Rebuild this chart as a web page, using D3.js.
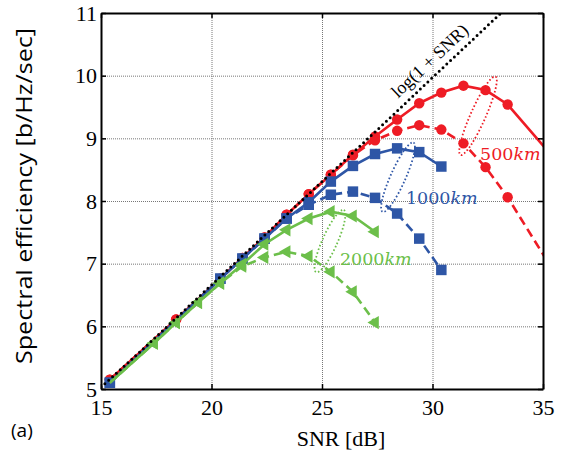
<!DOCTYPE html>
<html>
<head>
<meta charset="utf-8">
<script src="https://cdn.jsdelivr.net/npm/d3@7"></script>
<style>
  body { margin: 0; background: #fff; }
  svg { display: block; }
</style>
</head>
<body>
<div id="chart"></div>
<script>
// SNR [dB] and spectral efficiency [b/Hz/sec]
const xTicks = [15, 20, 25, 30, 35];
const yTicks = [5, 6, 7, 8, 9, 10, 11];

const idealSNR = [15, 17, 20, 23, 25, 28, 30, 33.1];
const idealSE  = [5.03, 5.67, 6.66, 7.65, 8.31, 9.30, 9.97, 11.0];

const redSolidSNR = [15.4, 18.4, 20.4, 21.4, 22.4, 23.4, 24.4, 25.4, 26.4, 27.4, 28.4, 29.4, 30.4, 31.4, 32.4, 33.4, 35.6];
const redSolidSE  = [5.15, 6.11, 6.76, 7.09, 7.42, 7.78, 8.11, 8.42, 8.74, 9.03, 9.30, 9.56, 9.73, 9.84, 9.77, 9.54, 8.64];
const redDashSNR  = [15.4, 18.4, 20.4, 21.4, 22.4, 23.4, 24.4, 25.4, 26.4, 27.4, 28.4, 29.4, 30.4, 31.4, 32.4, 33.4, 35.6];
const redDashSE   = [5.15, 6.11, 6.76, 7.09, 7.42, 7.78, 8.11, 8.42, 8.73, 8.97, 9.12, 9.21, 9.14, 8.92, 8.54, 8.06, 6.81];

const blueSolidSNR = [15.4, 20.4, 21.4, 22.4, 23.4, 24.4, 25.4, 26.4, 27.4, 28.4, 29.4, 30.4];
const blueSolidSE  = [5.10, 6.76, 7.08, 7.40, 7.72, 7.98, 8.31, 8.56, 8.75, 8.84, 8.78, 8.55];
const blueDashSNR  = [15.4, 20.4, 21.4, 22.4, 23.4, 24.4, 25.4, 26.4, 27.4, 28.4, 29.4, 30.4];
const blueDashSE   = [5.10, 6.76, 7.08, 7.40, 7.72, 7.94, 8.10, 8.15, 8.05, 7.80, 7.40, 6.90];

const greenSolidSNR = [15.4, 17.4, 18.4, 19.4, 20.4, 21.4, 22.4, 23.4, 24.4, 25.4, 26.4, 27.4];
const greenSolidSE  = [5.10, 5.73, 6.06, 6.38, 6.69, 6.99, 7.31, 7.54, 7.72, 7.83, 7.76, 7.51];
const greenDashSNR  = [15.4, 17.4, 18.4, 19.4, 20.4, 21.4, 22.4, 23.4, 24.4, 25.4, 26.4, 27.4];
const greenDashSE   = [5.10, 5.73, 6.06, 6.38, 6.69, 6.96, 7.10, 7.19, 7.12, 6.87, 6.55, 6.06];

// distance labels and the dotted ellipses that tie each solid/dashed pair
const distNames = ['500', '1000', '2000'];
const distLabelSNR = [32.15, 28.8, 25.81];
const distLabelSE  = [8.65, 7.95, 6.98];
const ringSNR = [32.06, 28.44, 25.36];
const ringSE  = [9.36, 8.38, 7.36];

const W = 565, H = 450;
const margin = { t: 13, r: 22, b: 61, l: 101 };
const innerWidth = W - margin.l - margin.r;
const innerHeight = H - margin.t - margin.b;

const red = '#ee1c25', blue = '#2e56a6', green = '#6cbf4a';

const x = d3.scaleLinear().domain([15, 35]).range([0, innerWidth]);
const y = d3.scaleLinear().domain([5, 11]).range([innerHeight, 0]);

const svg = d3.select('#chart')
  .append('svg')
  .attr('width', W)
  .attr('height', H);

const plot = svg.append('g')
  .attr('transform', `translate(${margin.l}, ${margin.t})`);

svg.append('defs').append('clipPath').attr('id', 'clip')
  .append('rect')
  .attr('width', innerWidth)
  .attr('height', innerHeight);

// grid
plot.append('g')
  .attr('class', 'grid')
  .attr('transform', `translate(0, ${innerHeight})`)
  .call(d3.axisBottom(x).tickValues(xTicks.slice(1, -1)).tickSize(-innerHeight).tickFormat(''));
plot.append('g')
  .attr('class', 'grid')
  .call(d3.axisLeft(y).tickValues(yTicks.slice(1, -1)).tickSize(-innerWidth).tickFormat(''));
plot.selectAll('.grid .domain').remove();
plot.selectAll('.grid text').remove();
plot.selectAll('.grid line')
  .attr('stroke', '#777')
  .attr('stroke-width', 1)
  .attr('stroke-dasharray', '1,1');

const zip = (xs, ys) => xs.map((v, i) => [v, ys[i]]);

const line = d3.line().x(d => x(d[0])).y(d => y(d[1]));

const series = [
  { pts: zip(redSolidSNR, redSolidSE), color: red, dash: null, mark: 'circle', from: 15 },
  { pts: zip(redDashSNR, redDashSE), color: red, dash: '9,5', mark: 'circle', from: 15 },
  { pts: zip(blueSolidSNR, blueSolidSE), color: blue, dash: null, mark: 'square', from: 15 },
  { pts: zip(blueDashSNR, blueDashSE), color: blue, dash: '9,5', mark: 'square', from: 15 },
  { pts: zip(greenSolidSNR, greenSolidSE), color: green, dash: null, mark: 'triangle', from: 17 },
  { pts: zip(greenDashSNR, greenDashSE), color: green, dash: '9,5', mark: 'triangle', from: 17 }
];

const curves = plot.append('g').attr('clip-path', 'url(#clip)');

series.forEach(s => {
  curves.append('path')
    .datum(s.pts)
    .attr('d', line)
    .attr('fill', 'none')
    .attr('stroke', s.color)
    .attr('stroke-width', 2.6)
    .attr('stroke-dasharray', s.dash);

  const sym = s.mark === 'circle' ? d3.symbol(d3.symbolCircle, 85)
    : s.mark === 'square' ? d3.symbol(d3.symbolSquare, 110)
    : d3.symbol(d3.symbolTriangle, 75);
  const rot = s.mark === 'triangle' ? -90 : 0;

  curves.selectAll(null)
    .data(s.pts.filter(d => d[0] >= s.from && d[0] <= 35))
    .enter()
    .append('path')
    .attr('d', sym)
    .attr('transform', d => `translate(${x(d[0])}, ${y(d[1])}) rotate(${rot})`)
    .attr('fill', s.color);
});

// ideal capacity curve
curves.append('path')
  .datum(zip(idealSNR, idealSE))
  .attr('d', line)
  .attr('fill', 'none')
  .attr('stroke', '#000')
  .attr('stroke-width', 3)
  .attr('stroke-linecap', 'round')
  .attr('stroke-dasharray', '0,5.2');

const slope = Math.atan2(y(idealSE[7]) - y(idealSE[0]), x(idealSNR[7]) - x(idealSNR[0])) * 180 / Math.PI;

plot.append('text')
  .attr('transform', `translate(${x(29.89)}, ${y(10.23)}) rotate(${slope})`)
  .attr('text-anchor', 'middle')
  .attr('dy', '0.3em')
  .attr('font-family', '"Liberation Serif", serif')
  .attr('font-size', 18)
  .text('log(1 + SNR)');

// ellipses
const colors = [red, blue, green];
const ringR = [[43, 7.5], [38, 7.5], [34, 7.5]];
ringSNR.forEach((v, i) => {
  plot.append('ellipse')
    .attr('transform', `translate(${x(v)}, ${y(ringSE[i])}) rotate(-66)`)
    .attr('rx', ringR[i][0])
    .attr('ry', ringR[i][1])
    .attr('fill', 'none')
    .attr('stroke', colors[i])
    .attr('stroke-width', 1.8)
    .attr('stroke-dasharray', '1.6,2.2');
});

distNames.forEach((n, i) => {
  const t = plot.append('text')
    .attr('x', x(distLabelSNR[i]))
    .attr('y', y(distLabelSE[i]))
    .attr('font-family', '"DejaVu Serif", serif')
    .attr('font-size', 17.5)
    .attr('fill', colors[i]);
  t.append('tspan').text(n);
  t.append('tspan').attr('font-style', 'italic').text('km');
});

// frame and ticks
const fmt = d3.format('d');
const axB = plot.append('g')
  .attr('transform', `translate(0, ${innerHeight})`)
  .call(d3.axisBottom(x).tickValues(xTicks).tickFormat(fmt).tickSizeInner(-5).tickSizeOuter(0).tickPadding(10));
const axL = plot.append('g')
  .call(d3.axisLeft(y).tickValues(yTicks).tickFormat(fmt).tickSizeInner(-5).tickSizeOuter(0).tickPadding(4));
const axT = plot.append('g')
  .call(d3.axisTop(x).tickValues(xTicks).tickSizeInner(-5).tickSizeOuter(0));
const axR = plot.append('g')
  .attr('transform', `translate(${innerWidth}, 0)`)
  .call(d3.axisRight(y).tickValues(yTicks).tickSizeInner(-5).tickSizeOuter(0));
axT.selectAll('text').remove();
axR.selectAll('text').remove();

[axB, axL, axT, axR].forEach(a => {
  a.attr('font-family', '"Liberation Serif", serif').attr('font-size', 22);
  a.select('.domain').attr('stroke', '#000').attr('stroke-width', 2);
  a.selectAll('line').attr('stroke', '#000').attr('stroke-width', 1.5);
  a.selectAll('text').attr('fill', '#000');
});

svg.append('text')
  .attr('x', 341)
  .attr('y', 446)
  .attr('text-anchor', 'middle')
  .attr('font-family', '"Liberation Serif", serif')
  .attr('font-size', 22)
  .text('SNR [dB]');

svg.append('text')
  .attr('transform', `translate(32, 196) rotate(-90)`)
  .attr('text-anchor', 'middle')
  .attr('font-family', '"Open Sans", sans-serif')
  .attr('font-size', 21)
  .attr('textLength', 336)
  .attr('lengthAdjust', 'spacingAndGlyphs')
  .text('Spectral efficiency [b/Hz/sec]');

svg.append('text')
  .attr('x', 11)
  .attr('y', 437)
  .attr('font-family', '"Open Sans", sans-serif')
  .attr('font-size', 19)
  .text('(a)');
</script>
</body>
</html>
